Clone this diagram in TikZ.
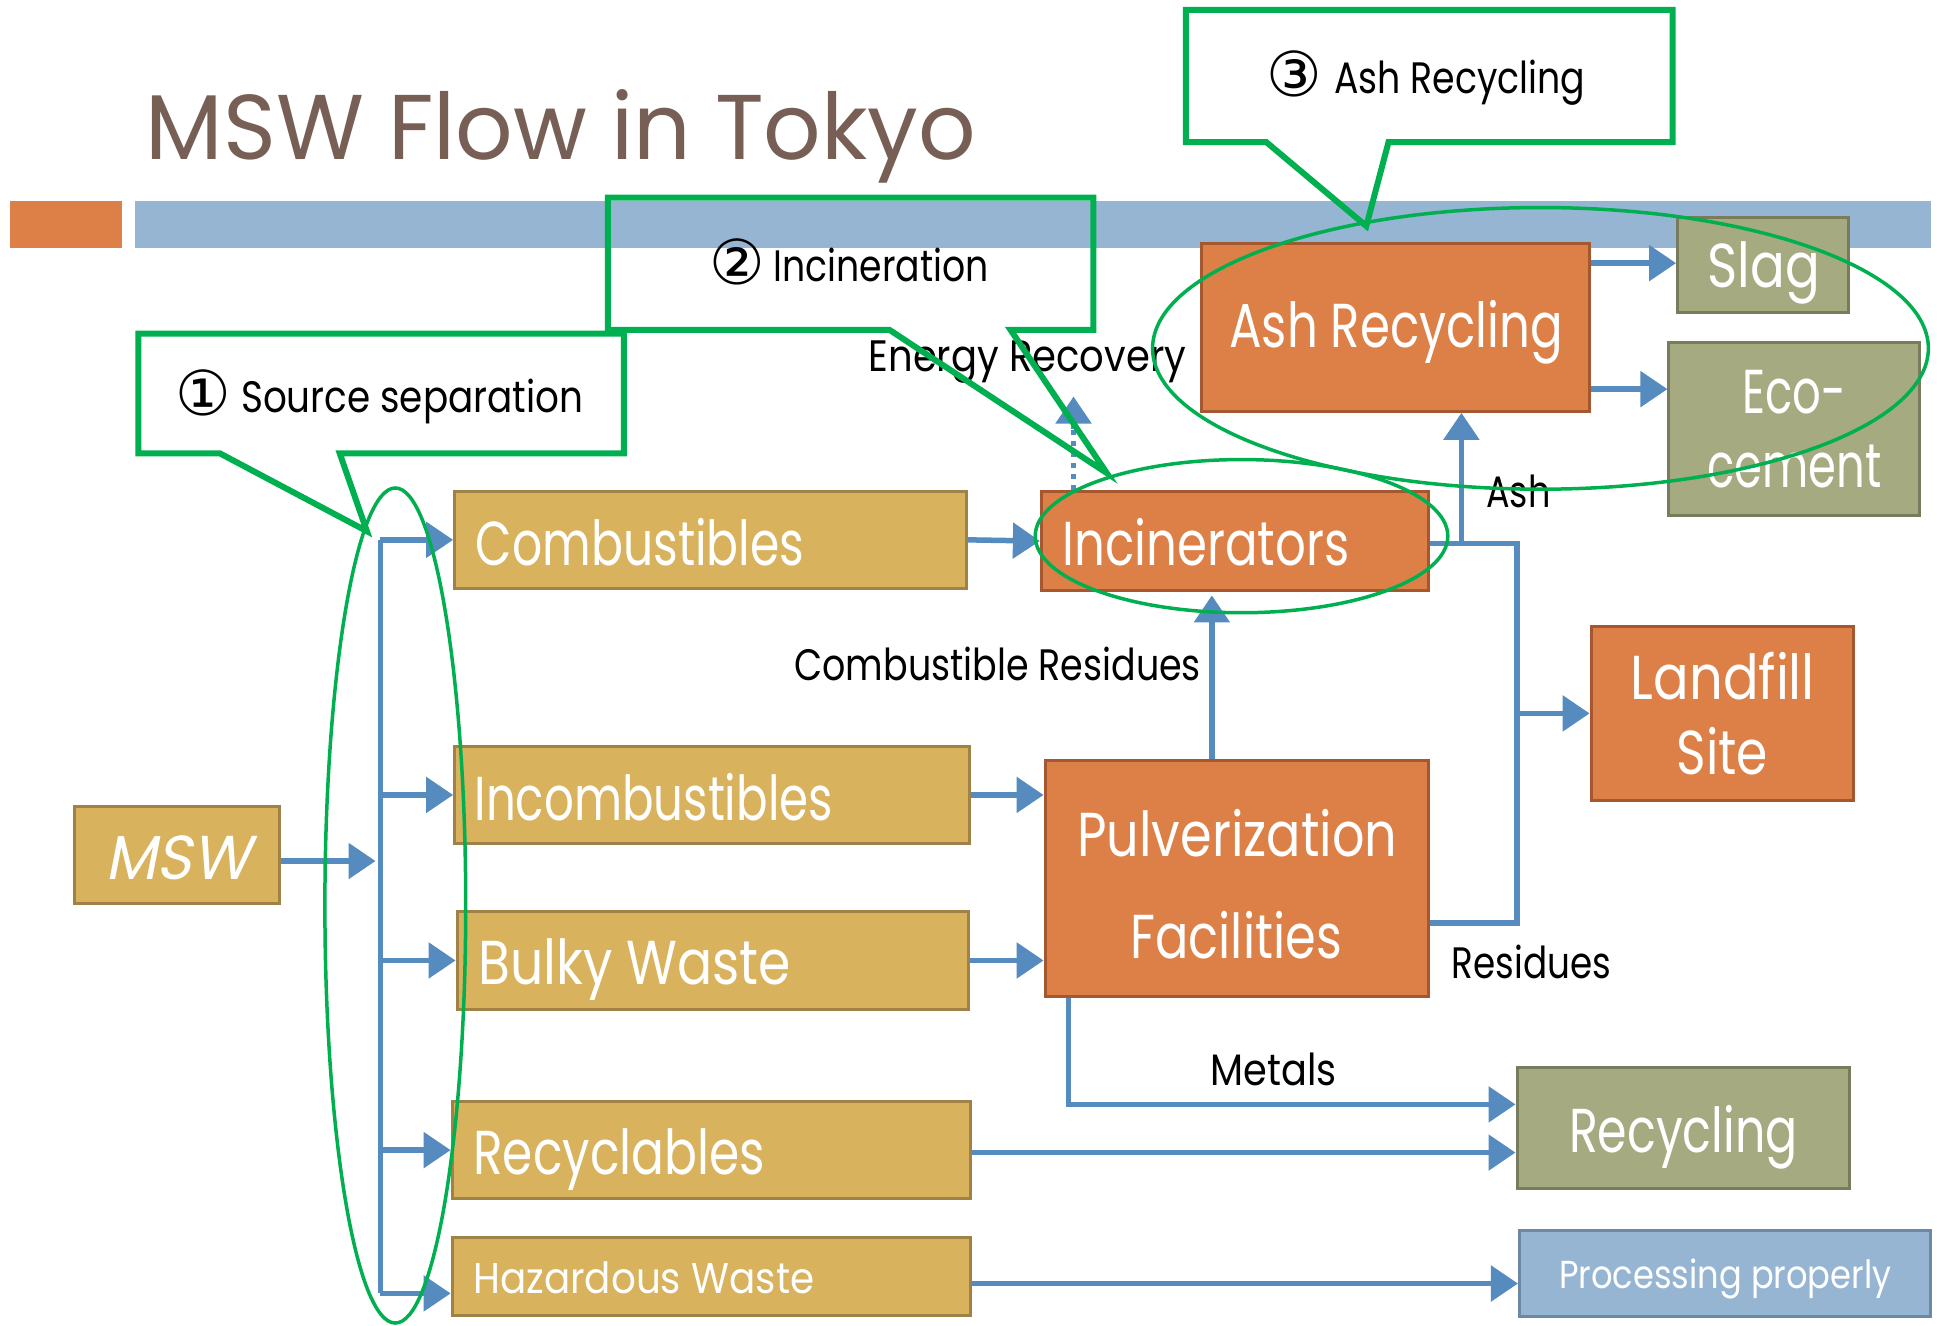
\documentclass[tikz,border=0pt]{standalone}
\usepackage{fontspec}
\usepackage{graphicx}
\setmainfont{Poppins}
\newfontfamily\dv{DejaVu Sans}
\newfontfamily\slfont[FakeSlant=0.2]{Poppins}
\usetikzlibrary{arrows.meta,fit}
\newdimen\sx \sx=1.2353pt
\newcommand\fw[2]{\resizebox{#1\sx}{\height}{#2}}
\newcommand\bigf{\fontsize{62}{70}\selectfont}
\newcommand\labf{\fontsize{44}{50}\selectfont}
\newcommand\numf{\dv\fontsize{62}{68}\selectfont}
\definecolor{goldf}{RGB}{216,178,92}
\definecolor{goldd}{RGB}{160,130,70}
\definecolor{orf}{RGB}{221,128,71}
\definecolor{ord}{RGB}{165,88,48}
\definecolor{olf}{RGB}{165,170,128}
\definecolor{old}{RGB}{120,124,92}
\definecolor{blf}{RGB}{149,181,211}
\definecolor{bld}{RGB}{108,136,165}
\definecolor{flowc}{RGB}{86,139,191}
\definecolor{grn}{RGB}{0,176,80}
\definecolor{titlec}{RGB}{119,95,85}
\tikzset{
  box/.style={inner sep=0pt, line width=3pt},
  goldbox/.style={box, fill=goldf, draw=goldd},
  orbox/.style={box, fill=orf, draw=ord},
  olbox/.style={box, fill=olf, draw=old},
  blbox/.style={box, fill=blf, draw=bld},
  wtxt/.style={anchor=base west, inner sep=0pt, text=white},
  ktxt/.style={anchor=base west, inner sep=0pt, text=black},
  conn/.style={draw=flowc, line width=5.5pt},
  flow/.style={conn, -{Triangle[length=27pt,width=35pt]}},
  callout/.style={draw=grn, line width=6pt, line join=miter},
  ring/.style={draw=grn, line width=3.5pt},
}
\begin{document}
\begin{tikzpicture}[x=1.2353pt,y=-1.2353pt]
\fill[white] (0,0) rectangle (1568,1073);
\useasboundingbox (0,0) rectangle (1568,1073);

% header
\node[anchor=base west, inner sep=0pt, text=titlec] (title) at (118,129) {\fontsize{92}{100}\selectfont\fw{672}{MSW Flow in Tokyo}};
\fill[orf] (8,163) rectangle (99,201);
\fill[blf] (109,163) rectangle (1563,201);

% boxes
\node[goldbox, fit={(60,653) (226,731)}] (msw) {};
\node[goldbox, fit={(368,398) (782,476)}] (comb) {};
\node[goldbox, fit={(368,604) (785,683)}] (incomb) {};
\node[goldbox, fit={(370,738) (784,817)}] (bulky) {};
\node[goldbox, fit={(366,892) (786,970)}] (recl) {};
\node[goldbox, fit={(366,1002) (786,1065)}] (haz) {};
\node[orbox, fit={(843,398) (1156,478)}] (inc) {};
\node[orbox, fit={(846,616) (1156,807)}] (pulv) {};
\node[orbox, fit={(973,197) (1287,333)}] (ash) {};
\node[orbox, fit={(1288,507) (1500,648)}] (land) {};
\node[olbox, fit={(1358,176) (1496,253)}] (slag) {};
\node[olbox, fit={(1351,277) (1554,417)}] (eco) {};
\node[olbox, fit={(1228,864) (1497,962)}] (recyc) {};
\node[blbox, fit={(1230,996) (1563,1066)}] (proc) {};

% box texts
\node[wtxt] (tmsw) at (85,712) {\slfont\fontsize{62}{70}\selectfont\fw{118}{MSW}};
\node[wtxt] (tcomb) at (385,458) {\bigf\fw{266}{Combustibles}};
\node[wtxt] (tincomb) at (384,664) {\bigf\fw{290}{Incombustibles}};
\node[wtxt] (tbulky) at (387,797) {\bigf\fw{253}{Bulky Waste}};
\node[wtxt] (trecl) at (383,951) {\bigf\fw{236}{Recyclables}};
\node[wtxt] (thaz) at (383,1047) {\fontsize{43}{48}\selectfont\fw{276}{Hazardous Waste}};
\node[wtxt] (tinc) at (860,458) {\bigf\fw{232}{Incinerators}};
\node[wtxt] (tpulv) at (872,693) {\bigf\fw{259}{Pulverization}};
\node[wtxt] (tfac) at (915,776) {\bigf\fw{171}{Facilities}};
\node[wtxt] (tash) at (995,281) {\bigf\fw{270}{Ash Recycling}};
\node[wtxt] (tslag) at (1382,233) {\bigf\fw{91}{Slag}};
\node[wtxt] (teco) at (1410,335) {\bigf\fw{84}{Eco-}};
\node[wtxt] (tcem) at (1382,395) {\bigf\fw{141}{cement}};
\node[wtxt] (tland) at (1320,566) {\bigf\fw{149}{Landfill}};
\node[wtxt] (tsite) at (1357,627) {\bigf\fw{74}{Site}};
\node[wtxt] (trecyc) at (1270,933) {\bigf\fw{185}{Recycling}};
\node[wtxt] (tproc) at (1262,1043) {\fontsize{39}{44}\selectfont\fw{269}{Processing properly}};

% connector labels
\node[ktxt] (lenergy) at (703,301) {\labf\fw{257}{Energy Recovery}};
\node[ktxt] (lcombres) at (643,551) {\labf\fw{329}{Combustible Residues}};
\node[ktxt] (lash) at (1203,411) {\labf\fw{52}{Ash}};
\node[ktxt] (lres) at (1175,792) {\labf\fw{129}{Residues}};
\node[ktxt] (lmet) at (980,879) {\labf\fw{102}{Metals}};

% connectors
\coordinate (bus) at (308,433);
\coordinate (busin) at (304,697);
\coordinate (hzl) at (0,1047);
\draw[conn] (comb.west -| bus) -- (hzl -| bus);
\draw[flow] (msw.east |- busin) -- (busin);
\draw[flow] (comb.west -| bus) -- (comb.west);
\draw[flow] (incomb.west -| bus) -- (incomb.west);
\draw[flow] (bulky.west -| bus) -- (bulky.west);
\draw[flow] (recl.west -| bus) -- (recl.west);
\draw[flow] (hzl -| bus) -- (hzl -| haz.west);
\draw[flow] (comb.east) -- (inc.west);
\draw[flow] (incomb.east) -- (incomb.east -| pulv.west);
\draw[flow] (bulky.east) -- (bulky.east -| pulv.west);
\coordinate (cr) at (981,482);
\draw[flow] (pulv.north -| cr) -- (cr);
\coordinate (j1) at (1183,440);
\coordinate (j2) at (1228,440);
\coordinate (j3) at (1228,747);
\draw[conn] (inc.east |- j1) -- (j2) -- (j3) -- (j3 -| pulv.east);
\draw[flow] (j1) -- (j1 |- ash.south);
\draw[flow] (j2 |- land.west) -- (land.west);
\coordinate (m1) at (865,894);
\draw[flow] (m1 |- pulv.south) -- (m1) -- (m1 -| recyc.west);
\coordinate (rc) at (0,933);
\draw[flow] (recl.east |- rc) -- (recyc.west |- rc);
\coordinate (hz) at (0,1039);
\draw[flow] (haz.east |- hz) -- (proc.west |- hz);
\coordinate (sl) at (0,213);
\draw[flow] (ash.east |- sl) -- (slag.west |- sl);
\coordinate (ec) at (0,315);
\draw[flow] (ash.east |- ec) -- (eco.west |- ec);
\coordinate (er) at (869,321);
\coordinate (erb) at (869,347);
\draw[conn, dash pattern=on 5pt off 6pt] (inc.north -| er) -- (erb);
\draw[flow] (erb) -- (er);

% rings
\draw[ring] (320,733) ellipse [x radius=57, y radius=338];
\draw[ring] (1005,434) ellipse [x radius=167, y radius=62];
\draw[ring] (1247,282) ellipse [x radius=314, y radius=114];

% callouts
\draw[callout] (178,367) -- (112,367) -- (112,270) -- (505,270) -- (505,367) -- (275,367) -- (297,430) -- cycle;
\draw[callout] (720,267) -- (492,267) -- (492,160) -- (885,160) -- (885,267) -- (818,267) -- (896,383) -- cycle;
\draw[callout] (1025,115) -- (960,115) -- (960,8) -- (1354,8) -- (1354,115) -- (1124,115) -- (1106,183) -- cycle;
\node[ktxt] (n1) at (142,336) {\numf ①};
\node[ktxt] (c1) at (195,334) {\labf\fw{277}{Source separation}};
\node[ktxt] (n2) at (574,230) {\numf ②};
\node[ktxt] (c2) at (626,228) {\labf\fw{174}{Incineration}};
\node[ktxt] (n3) at (1025,78) {\numf ③};
\node[ktxt] (c3) at (1080,76) {\labf\fw{203}{Ash Recycling}};
\end{tikzpicture}
\end{document}
